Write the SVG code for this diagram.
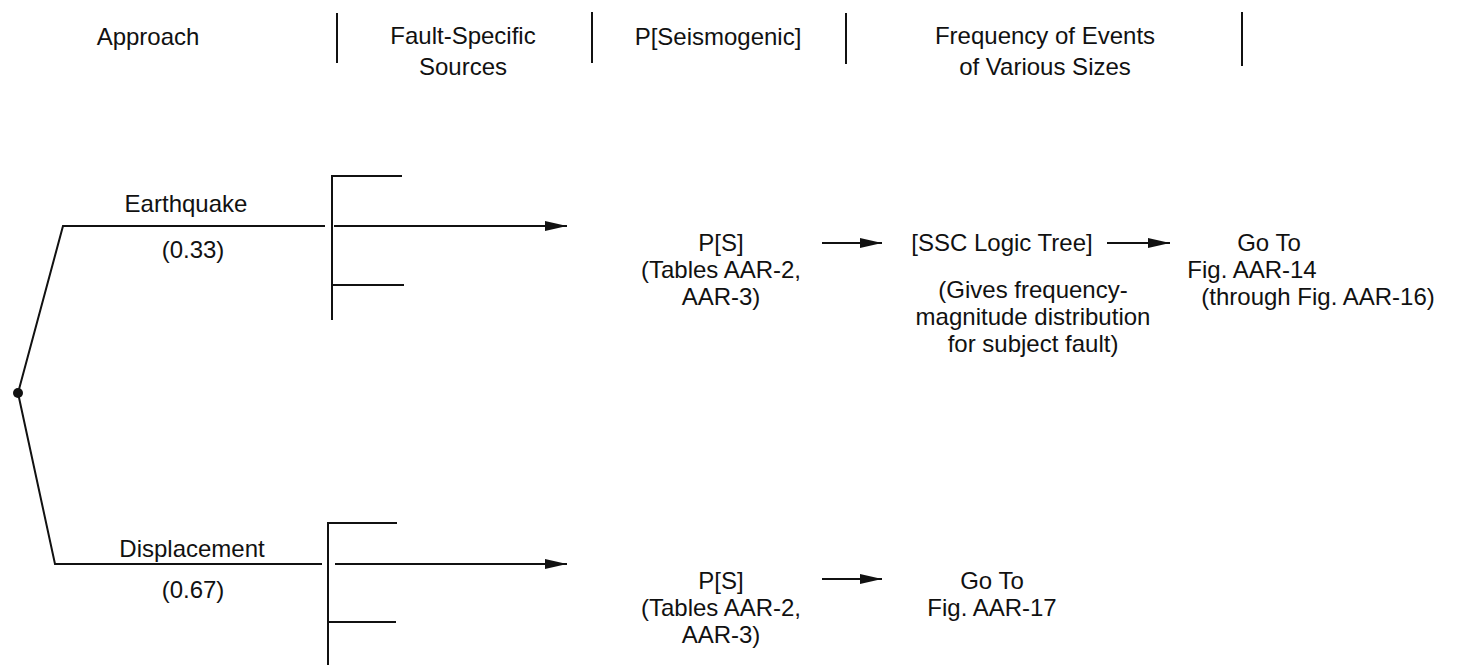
<svg xmlns="http://www.w3.org/2000/svg" width="1465" height="665" viewBox="0 0 1465 665">
  <style>
    text { font-family: "Liberation Sans", Arial, sans-serif; font-size: 24px; fill: #111; text-anchor: middle; }
    .ln { stroke: #111; stroke-width: 2; fill: none; }
    .arr { stroke: #111; stroke-width: 2.2; fill: none; marker-end: url(#ah); }
  </style>
  <defs>
    <marker id="ah" viewBox="0 0 22 10" refX="22" refY="5" markerWidth="22" markerHeight="10" markerUnits="userSpaceOnUse" orient="auto">
      <path d="M0,0 L22,5 L0,10 Z" fill="#111"/>
    </marker>
  </defs>
  <rect width="1465" height="665" fill="#fff"/>

  <!-- column headings -->
  <g id="headings">
    <text x="148" y="45">Approach</text>
    <text x="463" y="44">Fault-Specific</text>
    <text x="463" y="75">Sources</text>
    <text x="718" y="45">P[Seismogenic]</text>
    <text x="1045" y="44">Frequency of Events</text>
    <text x="1045" y="75">of Various Sizes</text>
    <line class="ln" x1="337" y1="13" x2="337" y2="63"/>
    <line class="ln" x1="592" y1="12" x2="592" y2="63"/>
    <line class="ln" x1="846" y1="13" x2="846" y2="64"/>
    <line class="ln" x1="1242" y1="12" x2="1242" y2="66"/>
  </g>

  <!-- root node -->
  <g id="root">
    <circle cx="18" cy="393" r="5" fill="#111"/>
  </g>

  <!-- earthquake branch -->
  <g id="earthquake">
    <text x="186" y="212">Earthquake</text>
    <text x="193" y="258">(0.33)</text>
  </g>
  <g id="eq-sources">
    <line class="ln" x1="332" y1="175" x2="332" y2="320"/>
    <line class="ln" x1="332" y1="176" x2="402" y2="176"/>
    <line class="ln" x1="332" y1="285" x2="404" y2="285"/>
  </g>
  <g id="eq-ps">
    <text x="721" y="251">P[S]</text>
    <text x="721" y="278">(Tables AAR-2,</text>
    <text x="721" y="305">AAR-3)</text>
  </g>
  <g id="eq-ssc">
    <text x="1002" y="251">[SSC Logic Tree]</text>
    <text x="1033" y="298">(Gives frequency-</text>
    <text x="1033" y="325">magnitude distribution</text>
    <text x="1033" y="352">for subject fault)</text>
  </g>
  <g id="eq-goto">
    <text x="1269" y="251">Go To</text>
    <text x="1252" y="278">Fig. AAR-14</text>
    <text x="1318" y="305">(through Fig. AAR-16)</text>
  </g>

  <!-- displacement branch -->
  <g id="displacement">
    <text x="192" y="557">Displacement</text>
    <text x="193" y="598">(0.67)</text>
  </g>
  <g id="disp-sources">
    <line class="ln" x1="328" y1="522" x2="328" y2="665"/>
    <line class="ln" x1="328" y1="523" x2="397" y2="523"/>
    <line class="ln" x1="328" y1="622" x2="396" y2="622"/>
  </g>
  <g id="disp-ps">
    <text x="721" y="589">P[S]</text>
    <text x="721" y="616">(Tables AAR-2,</text>
    <text x="721" y="643">AAR-3)</text>
  </g>
  <g id="disp-goto">
    <text x="992" y="589">Go To</text>
    <text x="992" y="616">Fig. AAR-17</text>
  </g>

  <!-- connectors -->
  <g id="connectors">
    <polyline class="ln" points="18,393 63,226 325,226"/>
    <polyline class="ln" points="18,393 55,564 322,564"/>
    <line class="arr" x1="334" y1="226" x2="567" y2="226"/>
    <line class="arr" x1="335" y1="564" x2="567" y2="564"/>
    <line class="arr" x1="822" y1="243" x2="882" y2="243"/>
    <line class="arr" x1="1107" y1="243" x2="1170" y2="243"/>
    <line class="arr" x1="822" y1="579" x2="882" y2="579"/>
  </g>
</svg>
